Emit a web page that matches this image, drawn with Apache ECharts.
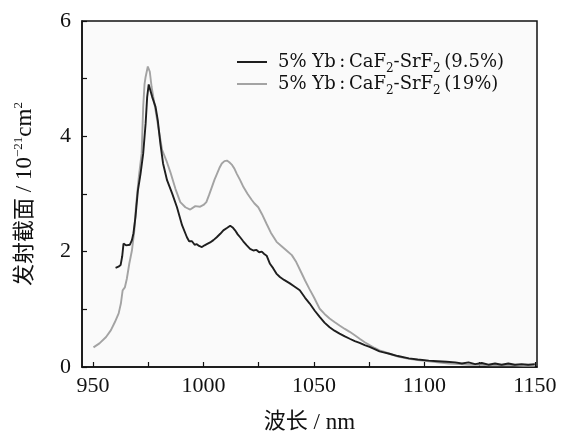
<!DOCTYPE html>
<html>
<head>
<meta charset="utf-8">
<script src="https://cdn.jsdelivr.net/npm/echarts@6/dist/echarts.min.js"></script>
<style>html,body{margin:0;padding:0;background:#fff}#c{width:562px;height:432px}</style>
</head>
<body>
<div id="c"></div>
<script>
// Wavelength (nm) and emission cross-section (10^-21 cm^2)
const wlA = [960.2,961.5,962.5,963.2,963.8,964.2,964.9,965.8,966.7,967.6,968.3,969.2,970.3,971.5,972.7,973.8,974.5,975.2,975.8,976.8,978.3,979.3,980.5,981.7,983.5,985.8,988,990.3,992.5,993.5,994.8,996,997,998,999.3,1000.5,1001.5,1003,1004.5,1006,1007.6,1009,1010.6,1012.1,1013.2,1014.3,1015.5,1016.6,1018,1019.6,1021.1,1022.6,1024,1025.2,1026.4,1027.5,1028.6,1030.1,1031.6,1033,1034.6,1036.5,1039.1,1041,1043.6,1046,1048.1,1050.3,1052.6,1054.8,1057.1,1059.3,1061.6,1064,1066.2,1068.5,1070.7,1073,1075.2,1077.5,1079.7,1082,1084.2,1088,1093,1097,1102,1106,1110,1114,1117,1120,1123,1126,1129,1132,1135,1138,1141,1144,1147,1150];
const sigA = [1.72,1.74,1.77,1.92,2.14,2.17,2.11,2.10,2.12,2.20,2.32,2.60,3.06,3.35,3.70,4.22,4.68,4.90,4.88,4.68,4.51,4.28,3.87,3.53,3.24,3.01,2.77,2.46,2.25,2.18,2.18,2.12,2.13,2.10,2.08,2.11,2.13,2.16,2.20,2.25,2.31,2.37,2.41,2.45,2.42,2.37,2.30,2.25,2.18,2.11,2.05,2.02,2.03,1.99,2.00,1.96,1.93,1.79,1.71,1.62,1.56,1.51,1.45,1.40,1.33,1.20,1.10,0.98,0.87,0.77,0.69,0.63,0.58,0.53,0.49,0.45,0.42,0.38,0.35,0.31,0.27,0.25,0.23,0.19,0.15,0.13,0.11,0.10,0.09,0.08,0.06,0.08,0.05,0.07,0.04,0.06,0.04,0.06,0.04,0.05,0.04,0.05];
const wlB = [950.2,952.9,955.9,958.1,959.9,961.6,962.6,963.4,964.4,965.3,966.4,967.6,968.7,969.4,970.7,972,972.7,973.3,973.8,974.3,974.8,975.3,975.7,976.5,978.3,979.8,981.3,983.2,985,987.3,989.5,991.8,994,996.3,998.5,1000,1001.3,1002.5,1003.8,1005,1006.1,1007.2,1008.3,1009.5,1010.6,1011.7,1012.8,1014,1015.1,1016.6,1018.1,1020,1021.8,1023,1024.8,1026.5,1028.6,1030.5,1033.1,1035.5,1037.6,1040,1042,1044,1046,1048,1050,1052.6,1054.8,1057.1,1059.3,1061.6,1064,1066.2,1068.5,1070.7,1073,1075.2,1077.5,1079.7,1082,1084.2,1088,1093,1097,1102,1106,1111,1116,1120,1125,1130,1135,1140,1145,1150];
const sigB = [0.34,0.41,0.52,0.64,0.78,0.93,1.10,1.33,1.38,1.53,1.79,2.02,2.37,2.77,3.29,3.70,4.51,4.90,5.03,5.12,5.21,5.18,5.12,4.86,4.45,4.10,3.76,3.58,3.38,3.09,2.86,2.77,2.73,2.79,2.78,2.81,2.86,2.98,3.12,3.25,3.35,3.45,3.53,3.57,3.58,3.55,3.51,3.44,3.35,3.24,3.12,3.00,2.90,2.84,2.77,2.65,2.48,2.33,2.17,2.09,2.02,1.94,1.82,1.66,1.50,1.35,1.21,1.01,0.92,0.84,0.78,0.72,0.66,0.61,0.55,0.49,0.43,0.38,0.33,0.29,0.26,0.23,0.18,0.14,0.12,0.10,0.08,0.06,0.05,0.04,0.04,0.03,0.03,0.03,0.02,0.02];
const seriesNames = ['A', 'B'];
const xLabels = [950, 1000, 1050, 1100, 1150];
const xTicks = [950, 975, 1000, 1025, 1050, 1075, 1100, 1125, 1150];

const SERIF = "'Liberation Serif', 'Noto Sans CJK SC', serif";
const DSERIF = "'DejaVu Serif', 'Liberation Serif', serif";
const legendRich = {
  f: {fontFamily: DSERIF, fontSize: 18, color: '#111', lineHeight: 26, padding: [0, 0, 0, 6]},
  t: {fontFamily: DSERIF, fontSize: 18, color: '#111', lineHeight: 26},
  s: {fontFamily: DSERIF, fontSize: 12, color: '#111', verticalAlign: 'bottom', lineHeight: 20}
};
const legendText = {
  A: '{f|5% Yb\u2009:\u2009CaF}{s|2}{t|-SrF}{s|2}{t|\u2009(9.5%)}',
  B: '{f|5% Yb\u2009:\u2009CaF}{s|2}{t|-SrF}{s|2}{t|\u2009(19%)}'
};

const chart = echarts.init(document.getElementById('c'), null, {renderer: 'canvas'});
chart.setOption({
  animation: false,
  backgroundColor: '#fff',
  grid: {left: 82, right: 25, top: 21, bottom: 65, show: true, backgroundColor: '#fafafa', borderColor: '#111', borderWidth: 1.5, outerBoundsMode: 'none', containLabel: false},
  legend: {
    orient: 'vertical', left: 232, top: 48, itemWidth: 30, itemHeight: 2, itemGap: 0,
    icon: 'rect',
    formatter: n => legendText[n],
    textStyle: {rich: legendRich},
    data: seriesNames
  },
  xAxis: {
    type: 'value', min: 945, max: 1151,
    name: '{c|波长}{t| / nm}', nameLocation: 'middle', nameGap: 44,
    nameTextStyle: {rich: {
      c: {fontFamily: SERIF, fontSize: 22, color: '#111'},
      t: {fontFamily: SERIF, fontSize: 23, color: '#111'}
    }},
    axisLine: {lineStyle: {color: '#111', width: 1.5}},
    axisTick: {inside: true, length: 5, lineStyle: {color: '#111', width: 1.2}, customValues: xTicks},
    axisLabel: {fontFamily: SERIF, fontSize: 22, color: '#111', margin: 8, customValues: xLabels, formatter: v => String(v)},
    splitLine: {show: false}
  },
  yAxis: {
    type: 'value', min: 0, max: 6, interval: 1,
    name: '{c|发射截面}{t| / 10}{p|−21}{t|cm}{p|2}', nameLocation: 'middle', nameGap: 44,
    nameTextStyle: {rich: {
      c: {fontFamily: SERIF, fontSize: 22, color: '#111', lineHeight: 26},
      t: {fontFamily: SERIF, fontSize: 23, color: '#111', lineHeight: 26},
      p: {fontFamily: SERIF, fontSize: 13, color: '#111', verticalAlign: 'top'}
    }},
    axisLine: {lineStyle: {color: '#111', width: 1.5}},
    axisTick: {inside: true, length: 5, lineStyle: {color: '#111', width: 1.2}},
    axisLabel: {fontFamily: SERIF, fontSize: 22, color: '#111', margin: 11, formatter: v => (v % 2 === 0 ? String(v) : '')},
    splitLine: {show: false}
  },
  series: [
    {name: 'A', type: 'line', symbol: 'none', data: wlA.map((x, i) => [x, sigA[i]]), lineStyle: {color: '#1e1e1e', width: 1.9}, itemStyle: {color: '#1e1e1e'}, z: 3},
    {name: 'B', type: 'line', symbol: 'none', data: wlB.map((x, i) => [x, sigB[i]]), lineStyle: {color: '#a3a3a3', width: 1.9}, itemStyle: {color: '#a3a3a3'}, z: 2}
  ]
});
</script>
</body>
</html>
